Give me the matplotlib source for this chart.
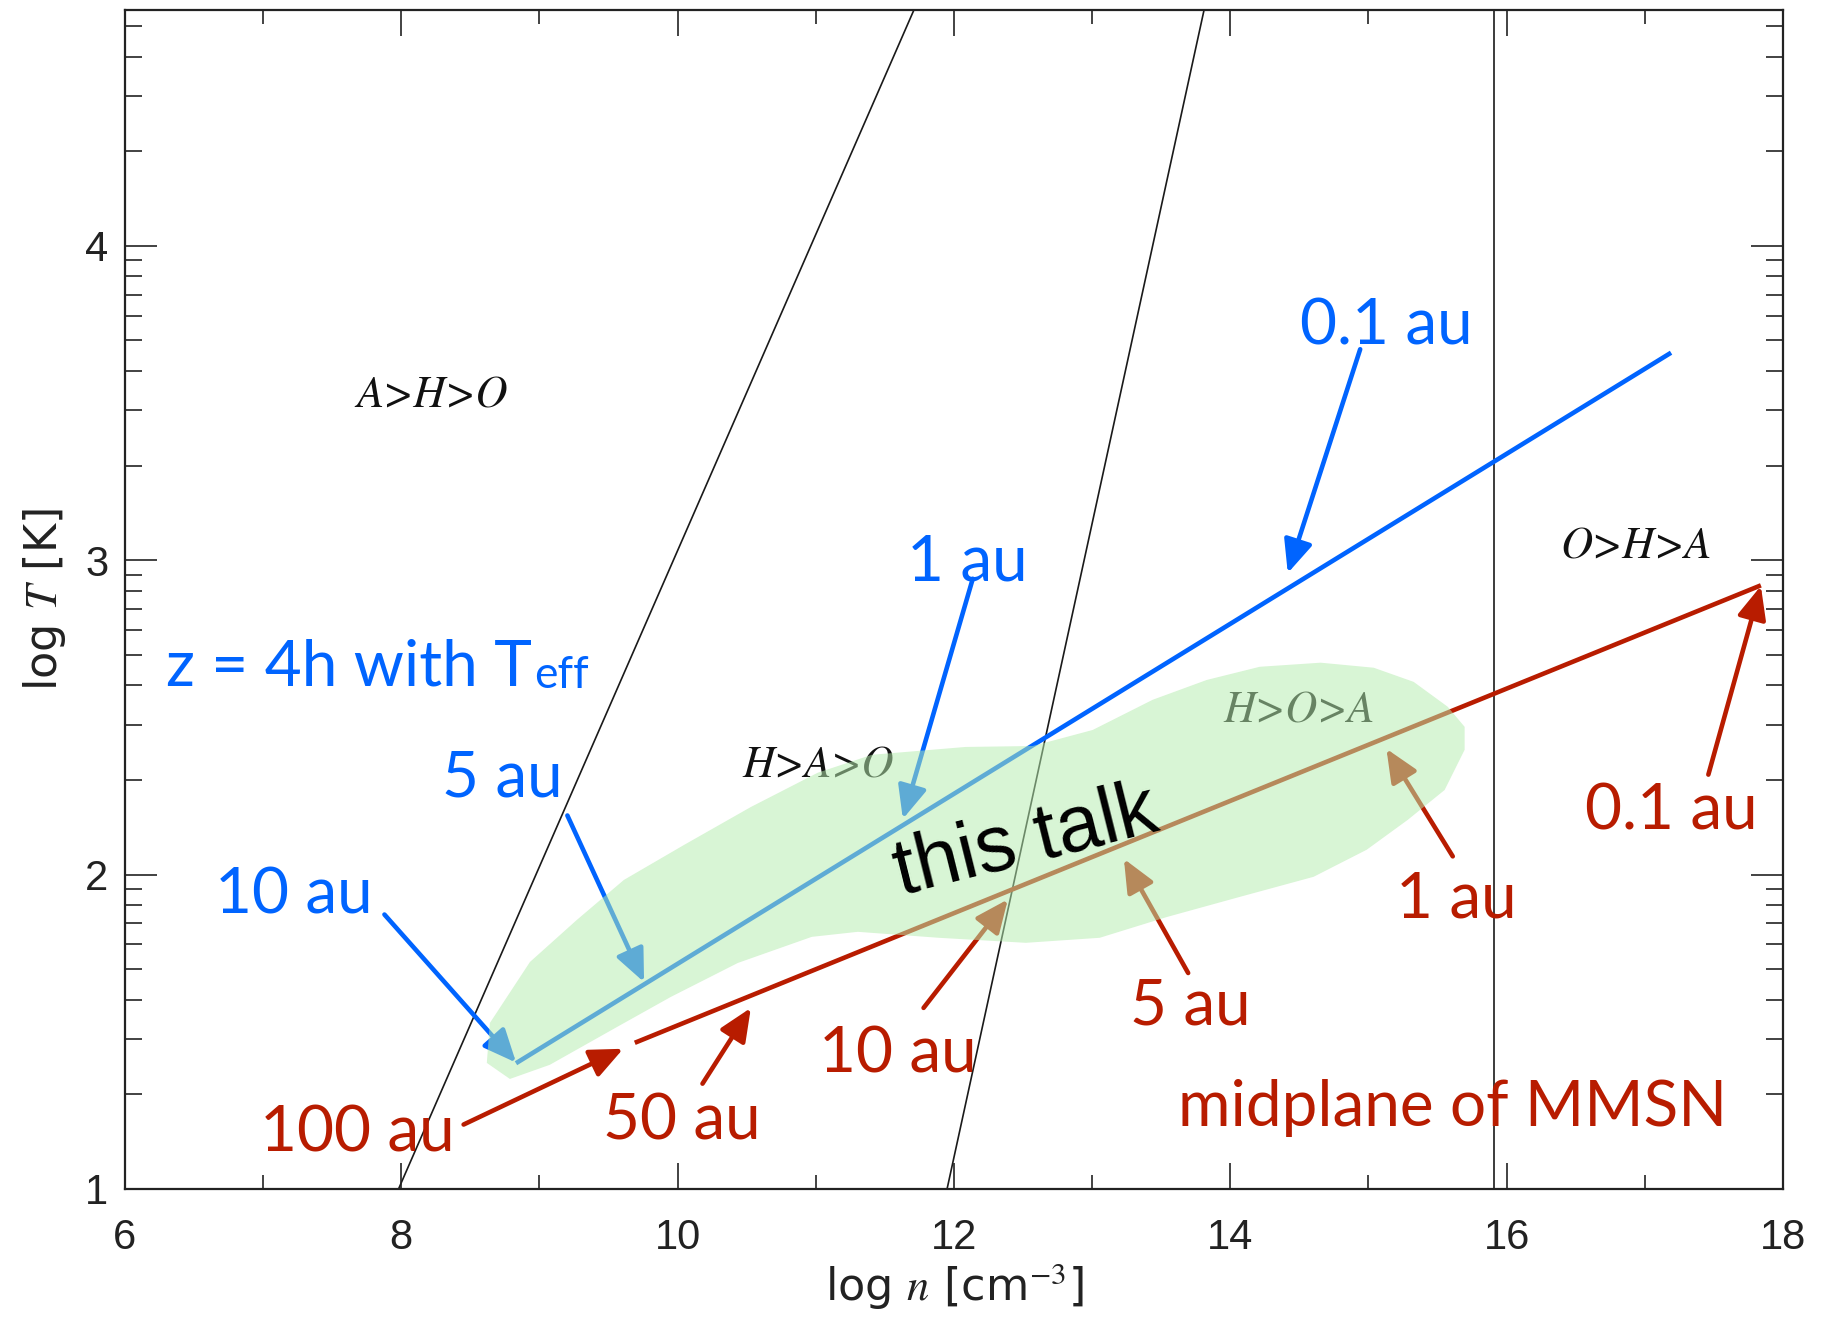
import matplotlib
matplotlib.use('Agg')
import matplotlib.pyplot as plt
import numpy as np
from matplotlib.patches import Polygon

plt.rcParams['mathtext.fontset'] = 'stix'

# ---------------- data ----------------
n_range = [6, 18]
T_range = [1, 4.75]
x_major = [6, 8, 10, 12, 14, 16, 18]
x_minor = [7, 9, 11, 13, 15, 17]
y_major = [1, 2, 3, 4]

# region boundaries (black lines)
bnd_left_n = [7.98, 11.71]
bnd_left_T = [1.0, 4.75]
bnd_mid_n = [11.95, 13.81]
bnd_mid_T = [1.0, 4.75]
bnd_vert_n = [15.91, 15.91]
bnd_vert_T = [1.0, 4.75]

# disc tracks
z4h_n = [8.83, 17.19]
z4h_T = [1.40, 3.66]
mmsn_n = [9.69, 17.84]
mmsn_T = [1.465, 2.92]

# "this talk" region outline
blob_n = [8.786, 8.619, 8.641, 8.931, 9.271, 9.611, 10.045, 10.530, 11.014,
          11.405, 12.085, 12.570, 13.004, 13.438, 13.829, 14.213, 14.654,
          15.038, 15.327, 15.573, 15.696, 15.696, 15.551, 15.284, 14.987,
          14.603, 14.068, 13.540, 13.055, 12.520, 11.890, 11.304, 10.971,
          10.436, 9.951, 9.560, 9.075]
blob_T = [1.350, 1.401, 1.528, 1.722, 1.856, 1.983, 2.094, 2.215, 2.324,
          2.381, 2.406, 2.409, 2.460, 2.556, 2.619, 2.661, 2.674, 2.658,
          2.613, 2.534, 2.470, 2.397, 2.269, 2.174, 2.079, 1.993, 1.929,
          1.865, 1.799, 1.783, 1.799, 1.818, 1.802, 1.719, 1.611, 1.515,
          1.395]

region_labels = ['A>H>O', 'H>A>O', 'H>O>A', 'O>H>A']
region_n = [8.22, 11.02, 14.50, 16.94]
region_T = [3.52, 2.343, 2.52, 3.04]

blue_labels = ['0.1 au', '1 au', '5 au', '10 au']
blue_label_n = [15.13, 12.10, 8.73, 7.225]
blue_label_T = [3.685, 2.937, 2.247, 1.877]
blue_from_n = [14.94, 12.136, 9.202, 7.878]
blue_from_T = [3.671, 2.941, 2.188, 1.873]
blue_to_n = [14.416, 11.63, 9.757, 8.831]
blue_to_T = [2.959, 2.177, 1.658, 1.402]

red_labels = ['100 au', '50 au', '10 au', '5 au', '1 au', '0.1 au']
red_label_n = [7.684, 10.03, 11.59, 13.71, 15.635, 17.19]
red_label_T = [1.120, 1.157, 1.372, 1.524, 1.862, 2.143]
red_from_n = [8.451, 10.18, 11.78, 13.695, 15.61, 17.46]
red_from_T = [1.205, 1.335, 1.576, 1.687, 2.058, 2.318]
red_to_n = [9.606, 10.53, 12.39, 13.23, 15.13, 17.84]
red_to_T = [1.446, 1.576, 1.921, 2.05, 2.40, 2.918]

z4h_title = 'z = 4h with T'
z4h_sub = 'eff'
z4h_title_n, z4h_title_T = 6.30, 2.603
mmsn_title = 'midplane of MMSN'
mmsn_title_n, mmsn_title_T = 15.61, 1.2017
talk_label = 'this talk'
talk_n, talk_T = 12.525, 2.10

# ---------------- styling ----------------
BLUE = '#0064ff'
RED = '#b81c00'
GREEN = '#b5ecaf'
LBL_FONT = ['Lato', 'DejaVu Sans']
TICK_FONT = ['Liberation Sans Narrow', 'Liberation Sans', 'DejaVu Sans']

fig = plt.figure(figsize=(18.27, 13.17), dpi=100)
ax = fig.add_axes([0.0684, 0.0972, 0.9075, 0.8952])
ax.set_xlim(*n_range)
ax.set_ylim(*T_range)

# boundaries
for xs, ys in [(bnd_left_n, bnd_left_T), (bnd_mid_n, bnd_mid_T), (bnd_vert_n, bnd_vert_T)]:
    ax.plot(xs, ys, color='#1a1a1a', lw=1.2, zorder=1)

# tracks
ax.plot(z4h_n, z4h_T, color=BLUE, lw=3.3, solid_capstyle='butt', zorder=2)
ax.plot(mmsn_n, mmsn_T, color=RED, lw=3.3, solid_capstyle='butt', zorder=2)

# region labels (serif italic)
for lab, xx, yy in zip(region_labels, region_n, region_T):
    ax.text(xx, yy, lab, fontsize=32, family='STIXGeneral', style='italic',
            color='#111111', ha='center', va='center', zorder=2)

arrow_kw = dict(arrowstyle='-|>,head_length=0.5,head_width=0.22', lw=3.3,
                mutation_scale=40, shrinkA=0, shrinkB=0)
for lab, lx, ly, fx, fy, tx, ty in zip(blue_labels, blue_label_n, blue_label_T,
                                        blue_from_n, blue_from_T, blue_to_n, blue_to_T):
    ax.annotate('', xy=(tx, ty), xytext=(fx, fy),
                arrowprops=dict(color=BLUE, **arrow_kw), zorder=3)
    ax.text(lx, ly, lab, fontsize=46, family=LBL_FONT, color=BLUE,
            ha='center', va='baseline', zorder=6)

for lab, lx, ly, fx, fy, tx, ty in zip(red_labels, red_label_n, red_label_T,
                                        red_from_n, red_from_T, red_to_n, red_to_T):
    ax.annotate('', xy=(tx, ty), xytext=(fx, fy),
                arrowprops=dict(color=RED, **arrow_kw), zorder=3)
    ax.text(lx, ly, lab, fontsize=46, family=LBL_FONT, color=RED,
            ha='center', va='baseline', zorder=6)

t = ax.text(z4h_title_n, z4h_title_T, z4h_title, fontsize=46, family=LBL_FONT,
            color=BLUE, ha='left', va='baseline', zorder=6)
ax.annotate(z4h_sub, xy=(1, 0), xycoords=t, xytext=(1, 0), textcoords='offset points',
            fontsize=32, family=LBL_FONT, color=BLUE, ha='left', va='bottom', zorder=6)
ax.text(mmsn_title_n, mmsn_title_T, mmsn_title, fontsize=46, family=LBL_FONT,
        color=RED, ha='center', va='baseline', zorder=6)

# semi-transparent green region over the lines
ax.add_patch(Polygon(np.column_stack([blob_n, blob_T]), closed=True,
                     facecolor=GREEN, edgecolor='none', alpha=0.525, zorder=4))
ax.text(talk_n, talk_T, talk_label, fontsize=57, family=['Liberation Sans', 'DejaVu Sans'],
        color='black', rotation=14, rotation_mode='anchor', ha='center', va='center', zorder=5)

# axes / ticks
ax.set_xticks(x_major)
ax.set_xticks(x_minor, minor=True)
ax.set_yticks(y_major)
ymin_ticks = [k + np.log10(m) for k in range(1, 5) for m in range(2, 10) if k + np.log10(m) < 4.75]
ax.set_yticks(ymin_ticks, minor=True)
ax.set_xticklabels([str(v) for v in x_major])
ax.set_yticklabels([str(v) for v in y_major])
ax.tick_params(which='both', direction='in', top=True, right=True, color='#222222', width=1.2)
ax.tick_params(axis='x', which='major', length=19, pad=21, labelsize=30)
ax.tick_params(axis='x', which='minor', length=10)
ax.tick_params(axis='y', which='major', length=23, pad=12, labelsize=30)
ax.tick_params(axis='y', which='minor', length=12)
for lbl in ax.get_xticklabels() + ax.get_yticklabels():
    lbl.set_family(TICK_FONT)
    lbl.set_color('#222222')
for sp in ax.spines.values():
    sp.set_linewidth(1.6)
    sp.set_color('#222222')

ax.set_xlabel('log $n$ [cm$^{-3}$]', fontsize=32, family='DejaVu Sans', color='#222222', labelpad=2)
ax.set_ylabel('log $T$ [K]', fontsize=32, family='DejaVu Sans', color='#222222', labelpad=12)

fig.savefig('out.png', dpi=100)
